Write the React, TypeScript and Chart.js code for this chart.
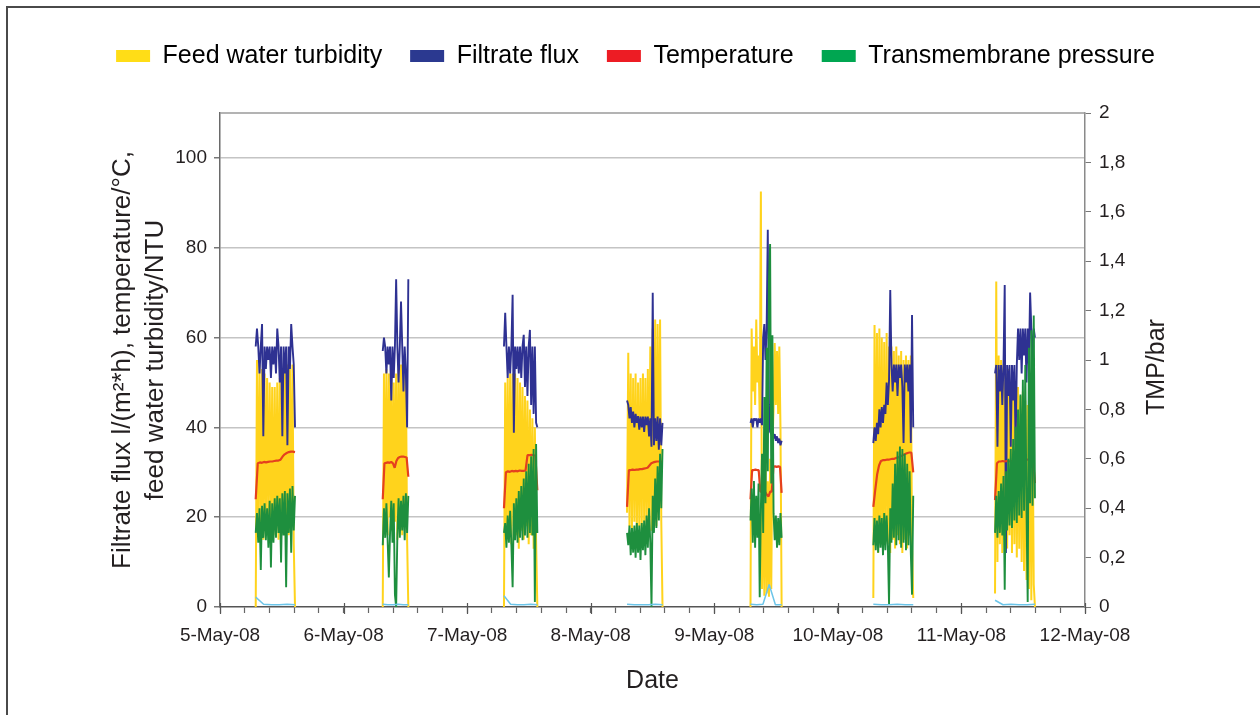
import React, { useEffect, useRef } from 'react';
import { Chart, registerables } from 'chart.js';

Chart.register(...registerables);

// ---------- DATA ----------
const dateLabels = ['5-May-08', '6-May-08', '7-May-08', '8-May-08', '9-May-08', '10-May-08', '11-May-08', '12-May-08'];
const seriesNames = ['Feed water turbidity', 'Filtrate flux', 'Temperature', 'Transmembrane pressure'];

// start / end of each operating run, in days after 5-May-08 00:00
const runStart = [0.289, 1.317, 2.298, 3.294, 4.293, 5.287, 6.272];
const runEnd = [0.607, 1.524, 2.568, 3.581, 4.545, 5.61, 6.595];

// Feed water turbidity / NTU (left axis), regular samples within each run
const turbidityRuns = [
  [0, 55, 16, 54, 18, 53, 15, 52, 19, 51, 17, 50, 20, 49, 16, 49, 18, 50, 15, 51, 19, 52, 17, 53, 20, 54, 16, 53, 18, 54, 14, 0],
  [0, 52, 18, 53, 16, 52, 20, 51, 17, 50, 19, 52, 15, 53, 18, 54, 16, 54, 20, 53, 15, 0],
  [0, 50, 15, 51, 17, 52, 14, 52, 18, 52, 16, 51, 13, 50, 17, 49, 15, 47, 18, 46, 14, 44, 16, 42, 13, 40, 15, 0],
  [21, 56.6, 18, 52, 17, 51, 19, 52, 16, 50, 18, 51, 17, 52, 19, 51, 16, 53, 18, 58, 17, 62, 20, 64, 18, 63, 22, 64, 19, 0],
  [0, 62, 48, 58, 45, 64, 50, 56, 42, 92.5, 4, 30, 2.5, 35, 3, 28, 2.3, 33, 4, 36, 44, 58.8, 45, 57, 43, 58, 40, 0],
  [2, 62.8, 14, 61, 12, 62, 15, 60, 13, 59, 16, 61, 14, 58, 12, 58, 15, 57, 13, 58, 16, 56, 14, 57, 12, 55, 15, 56, 13, 55, 16, 56, 14, 2],
  [3, 72.5, 10, 56, 14, 55, 12, 54, 15, 52, 13, 53, 16, 50, 12, 51, 14, 48, 11, 49, 13, 47, 10, 48, 8, 46, 6, 45, 4, 47, 1.5, 44, 5, 0],
];

// Filtrate flux l/(m2*h) (left axis)
const fluxRuns = [
  [58, 62, 58, 52, 58, 63, 38, 58, 53, 58, 55, 58, 51, 58, 54, 58, 52, 62, 58, 50, 58, 38, 58, 52, 58, 36, 58, 53, 63, 58, 54, 40],
  [57, 60, 58, 52, 58, 54, 58, 46, 58, 51, 58, 73, 58, 50, 58, 68, 58, 48, 58, 52, 40, 73],
  [58, 65.5, 58, 51, 58, 52, 58, 69.5, 38.8, 58, 53, 58, 52, 58, 51, 58, 60.6, 49, 58, 47, 58, 61.7, 45, 58, 43, 58, 41, 40],
  [46, 45, 42, 44.5, 41, 43.5, 40, 43, 41, 42.5, 39.5, 42.4, 40, 42.4, 39, 42.4, 40.5, 42.4, 38, 42, 35.7, 70, 36, 42, 37, 42.4, 35, 42, 36, 41],
  [41, 42, 40, 42, 41.5, 42, 40, 42, 41, 42, 40.5, 60, 63, 55, 62, 84, 45, 39, 38.5, 39, 37.5, 38.5, 37, 38, 36.5, 37.5, 36, 37],
  [36.5, 40, 37, 41, 38.5, 44, 40, 44.5, 41, 45, 43, 50, 45, 50.5, 70.6, 54, 48, 54, 50, 54, 47, 54, 51, 54, 49, 36.5, 54, 50, 54, 48, 54, 36.5, 65, 40],
  [52, 53.9, 35.7, 53.9, 48, 53.9, 45, 53.9, 71.7, 12, 53.9, 47, 53.9, 35.7, 53.9, 46, 53.9, 36, 53.9, 62, 55, 62, 52, 62, 56, 62, 50, 62, 54, 70, 62, 53, 62, 60],
];

// Temperature / °C (left axis)
const temperatureRuns = [
  [24, 32, 32.2, 32.1, 32.3, 32.2, 32.3, 32.4, 32.4, 32.5, 32.6, 32.6, 32.8, 33.5, 34, 34.3, 34.5, 34.6, 34.6, 34.5],
  [24, 32, 32.1, 32.2, 32.1, 32.3, 32.0, 31.0, 32.5, 33.2, 33.4, 33.5, 33.5, 33.4, 33.3, 29],
  [22, 30, 30.2, 30.1, 30.3, 30.2, 30.3, 30.2, 30.4, 30.3, 30.3, 30.4, 33.8, 33.8, 33.9, 33.8, 33.7, 26],
  [22.3, 30.5, 30.5, 30.6, 30.5, 30.6, 30.6, 30.7, 30.7, 30.8, 30.9, 31, 31.5, 32, 32.2, 32.3, 32.4, 32.4, 32.4, 32.3],
  [24, 30.5, 30.5, 30.6, 30.5, 30.5, 25.7, 25.7, 25.8, 25.6, 25, 24.6, 25.7, 25.7, 31.2, 31.3, 31.2, 31.3, 31.2, 25.4],
  [22.3, 26, 29.5, 31.5, 32.5, 32.7, 32.7, 32.8, 32.8, 32.9, 33, 33, 33.2, 33.3, 33.5, 33.7, 33.9, 34.1, 34.3, 34.4, 34.4, 30],
  [23.8, 32.0, 32.4, 32.4, 32.5, 32.4, 32.5, 32.5, 32.4, 32.5, 32.6, 32.6, 32.6, 32.7, 32.7, 32.8, 32.8, 32.8, 32.9, 32.9, 33, 27.6],
];

// Transmembrane pressure / bar (right axis)
const tmpRuns = [
  [0.30, 0.38, 0.26, 0.40, 0.15, 0.41, 0.28, 0.42, 0.27, 0.40, 0.24, 0.43, 0.16, 0.42, 0.26, 0.44, 0.28, 0.45, 0.30, 0.44, 0.18, 0.46, 0.29, 0.47, 0.08, 0.46, 0.30, 0.48, 0.22, 0.49, 0.31, 0.45],
  [0.25, 0.40, 0.28, 0.42, 0.27, 0.12, 0.30, 0.43, 0.26, 0.42, 0.05, 0.00, 0.29, 0.44, 0.28, 0.43, 0.31, 0.45, 0.27, 0.46, 0.30, 0.45],
  [0.30, 0.34, 0.24, 0.37, 0.26, 0.39, 0.25, 0.08, 0.42, 0.27, 0.44, 0.26, 0.47, 0.28, 0.49, 0.27, 0.52, 0.29, 0.55, 0.28, 0.58, 0.30, 0.61, 0.29, 0.64, 0.02, 0.66, 0.30],
  [0.30, 0.25, 0.33, 0.21, 0.32, 0.22, 0.33, 0.20, 0.34, 0.22, 0.33, 0.19, 0.34, 0.23, 0.35, 0.21, 0.37, 0.24, 0.40, 0.26, 0.00, 0.45, 0.30, 0.52, 0.32, 0.57, 0.35, 0.62, 0.40, 0.64],
  [0.35, 0.48, 0.26, 0.51, 0.24, 0.45, 0.28, 0.50, 0.04, 0.40, 0.62, 0.30, 0.85, 0.42, 1.05, 0.55, 1.32, 1.47, 0.50, 1.10, 0.38, 0.27, 0.37, 0.24, 0.36, 0.25, 0.38, 0.28],
  [0.25, 0.36, 0.23, 0.35, 0.22, 0.37, 0.24, 0.36, 0.21, 0.38, 0.23, 0.37, 0.25, 0.01, 0.40, 0.26, 0.50, 0.28, 0.58, 0.25, 0.63, 0.27, 0.65, 0.24, 0.64, 0.26, 0.62, 0.23, 0.58, 0.25, 0.55, 0.22, 0.05, 0.45],
  [0.30, 0.45, 0.28, 0.47, 0.30, 0.50, 0.29, 0.53, 0.07, 0.55, 0.31, 0.60, 0.33, 0.64, 0.32, 0.68, 0.35, 0.73, 0.34, 0.80, 0.37, 0.86, 0.36, 0.92, 0.39, 0.98, 0.40, 0.02, 1.05, 0.42, 1.12, 0.41, 1.18, 0.44],
];

// filtrate turbidity / NTU (light blue trace near the baseline, not in legend)
const filtrateTurbidityRuns = [
  [2.2, 0.6, 0.5, 0.5, 0.6, 0.5],
  [0.6, 0.5, 0.5, 0.6, 0.5, 0.5],
  [2.5, 0.6, 0.5, 0.5, 0.6, 0.5],
  [0.6, 0.5, 0.5, 0.5, 0.6, 0.5],
  [0.6, 0.5, 0.6, 5, 0.5, 0.5],
  [0.6, 0.5, 0.5, 0.6, 0.5, 0.5],
  [1.5, 0.5, 0.6, 0.5, 0.5, 0.6],
];

// ---------- STYLE ----------
const FONT = '"Liberation Sans", Arial, Helvetica, sans-serif';
const TEXT = '#231F20';
const lineColors = ['#FFD31C', '#2E3192', '#E5401E', '#1E8F3E'];
const legendColors = ['#FFDD17', '#2B3990', '#ED1C24', '#00A651'];

function buildPoints(runs: number[][]) {
  const pts: { x: number; y: number | null }[] = [];
  runs.forEach((vals, b) => {
    const t0 = runStart[b];
    const t1 = runEnd[b];
    vals.forEach((v, i) => pts.push({ x: t0 + ((t1 - t0) * i) / (vals.length - 1), y: v }));
    pts.push({ x: t1 + 0.05, y: null });
  });
  return pts;
}

const fmtComma = (v: number) => {
  const r = Math.round(v * 10) / 10;
  return Number.isInteger(r) ? String(r) : r.toFixed(1).replace('.', ',');
};

const extrasPlugin = {
  id: 'extras',
  beforeLayout(chart: any) {
    const lg = chart.legend;
    if (lg && !lg._gapPatched) {
      const orig = lg.fit.bind(lg);
      lg.fit = function () {
        orig();
        this.height += 34.5;
      };
      lg._gapPatched = true;
    }
  },
  afterDraw(chart: any) {
    const { ctx, chartArea } = chart;
    const xs = chart.scales.x;
    ctx.save();
    // top frame line
    ctx.strokeStyle = '#9A9A9A';
    ctx.lineWidth = 1.5;
    ctx.beginPath();
    ctx.moveTo(chartArea.left, chartArea.top);
    ctx.lineTo(chartArea.right, chartArea.top);
    ctx.stroke();
    // major day ticks crossing the axis
    ctx.strokeStyle = '#555';
    ctx.lineWidth = 1.2;
    dateLabels.forEach((_, i) => {
      const px = Math.round(xs.getPixelForValue(i)) + 0.5;
      ctx.beginPath();
      ctx.moveTo(px, chartArea.bottom - 4);
      ctx.lineTo(px, chartArea.bottom + 7);
      ctx.stroke();
    });
    // right axis title, reading bottom-to-top
    ctx.font = `25px ${FONT}`;
    ctx.fillStyle = TEXT;
    ctx.textAlign = 'center';
    ctx.textBaseline = 'middle';
    ctx.translate(chart.scales.y1.left + 72, (chartArea.top + chartArea.bottom) / 2 + 7);
    ctx.rotate(-Math.PI / 2);
    ctx.fillText('TMP/bar', 0, 0);
    ctx.restore();
  },
};

export default function App() {
  const canvasRef = useRef<HTMLCanvasElement | null>(null);

  useEffect(() => {
    if (!canvasRef.current) return;
    const common = { pointRadius: 0, tension: 0, borderJoinStyle: 'bevel', spanGaps: false };
    const chart = new Chart(canvasRef.current, {
      type: 'line',
      data: {
        datasets: [
          { ...common, label: 'Filtrate turbidity', data: buildPoints(filtrateTurbidityRuns), borderColor: '#6CC5E9', borderWidth: 1.5, yAxisID: 'y' },
          { ...common, label: seriesNames[3], data: buildPoints(tmpRuns), borderColor: lineColors[3], borderWidth: 1.9, yAxisID: 'y1' },
          { ...common, label: seriesNames[2], data: buildPoints(temperatureRuns), borderColor: lineColors[2], borderWidth: 2.2, yAxisID: 'y' },
          { ...common, label: seriesNames[1], data: buildPoints(fluxRuns), borderColor: lineColors[1], borderWidth: 1.9, yAxisID: 'y' },
          { ...common, label: seriesNames[0], data: buildPoints(turbidityRuns), borderColor: lineColors[0], borderWidth: 2, yAxisID: 'y' },
        ] as any,
      },
      options: {
        animation: false,
        responsive: false,
        devicePixelRatio: 1,
        layout: { padding: { left: 11, top: 15.5, right: 0, bottom: 0 } },
        plugins: {
          tooltip: { enabled: false },
          legend: {
            position: 'top',
            labels: {
              boxWidth: 34,
              boxHeight: 12,
              padding: 28,
              color: TEXT,
              font: { family: FONT, size: 25 },
              generateLabels: () =>
                [4, 3, 2, 1].map((di, k) => ({
                  text: seriesNames[k],
                  fillStyle: legendColors[k],
                  strokeStyle: legendColors[k],
                  lineWidth: 0,
                  hidden: false,
                  datasetIndex: di,
                })),
            },
          },
        },
        scales: {
          x: {
            type: 'linear',
            min: 0,
            max: 7,
            afterFit: (s: any) => {
              s.height = 108;
            },
            ticks: {
              stepSize: 0.2,
              autoSkip: false,
              maxRotation: 0,
              padding: 11,
              color: TEXT,
              font: { family: FONT, size: 19 },
              callback: (v: any) => {
                const n = Number(v);
                const r = Math.round(n);
                return Math.abs(n - r) < 1e-6 ? dateLabels[r] : '';
              },
            },
            grid: { drawOnChartArea: false, tickLength: 6, tickColor: '#666', tickWidth: 1.2 },
            border: { color: '#555', width: 1.5 },
            title: {
              display: true,
              text: 'Date',
              color: TEXT,
              font: { family: FONT, size: 25 },
              padding: { top: 0, bottom: 19 },
            },
          },
          y: {
            position: 'left',
            min: 0,
            max: 110,
            afterFit: (s: any) => {
              s.width = 209;
            },
            ticks: {
              stepSize: 20,
              includeBounds: false,
              padding: 7,
              color: TEXT,
              font: { family: FONT, size: 19 },
            },
            grid: {
              color: (c: any) => (c.tick && c.tick.value === 0 ? 'rgba(0,0,0,0)' : '#C4C4C4'),
              lineWidth: 1.5,
              tickLength: 6,
              tickColor: '#777',
            },
            border: { color: '#6A6A6A', width: 1.5 },
            title: {
              display: true,
              text: ['Filtrate flux l/(m²*h), temperature/°C,', 'feed water turbidity/NTU'],
              color: TEXT,
              font: { family: FONT, size: 26, lineHeight: 1.27 },
              padding: { top: 95.5, bottom: 0 },
            },
          },
          y1: {
            position: 'right',
            min: 0,
            max: 2,
            afterFit: (s: any) => {
              s.width = 175;
            },
            ticks: {
              stepSize: 0.2,
              padding: 8,
              color: TEXT,
              font: { family: FONT, size: 19 },
              callback: (v: any) => fmtComma(Number(v)),
            },
            grid: { drawOnChartArea: false, tickLength: 6, tickColor: '#777' },
            border: { color: '#8A8A8A', width: 1.5 },
          },
        },
      } as any,
      plugins: [extrasPlugin as any],
    });
    return () => chart.destroy();
  }, []);

  return (
    <div style={{ position: 'fixed', left: 0, top: 0, width: 1260, height: 715, background: '#fff' }}>
      <div
        style={{
          position: 'absolute',
          left: 6,
          top: 6,
          right: -10,
          bottom: -10,
          borderLeft: '2px solid #4A4A4A',
          borderTop: '2px solid #4A4A4A',
        }}
      />
      <canvas ref={canvasRef} width={1260} height={715} style={{ position: 'absolute', left: 0, top: 0, display: 'block' }} />
    </div>
  );
}
